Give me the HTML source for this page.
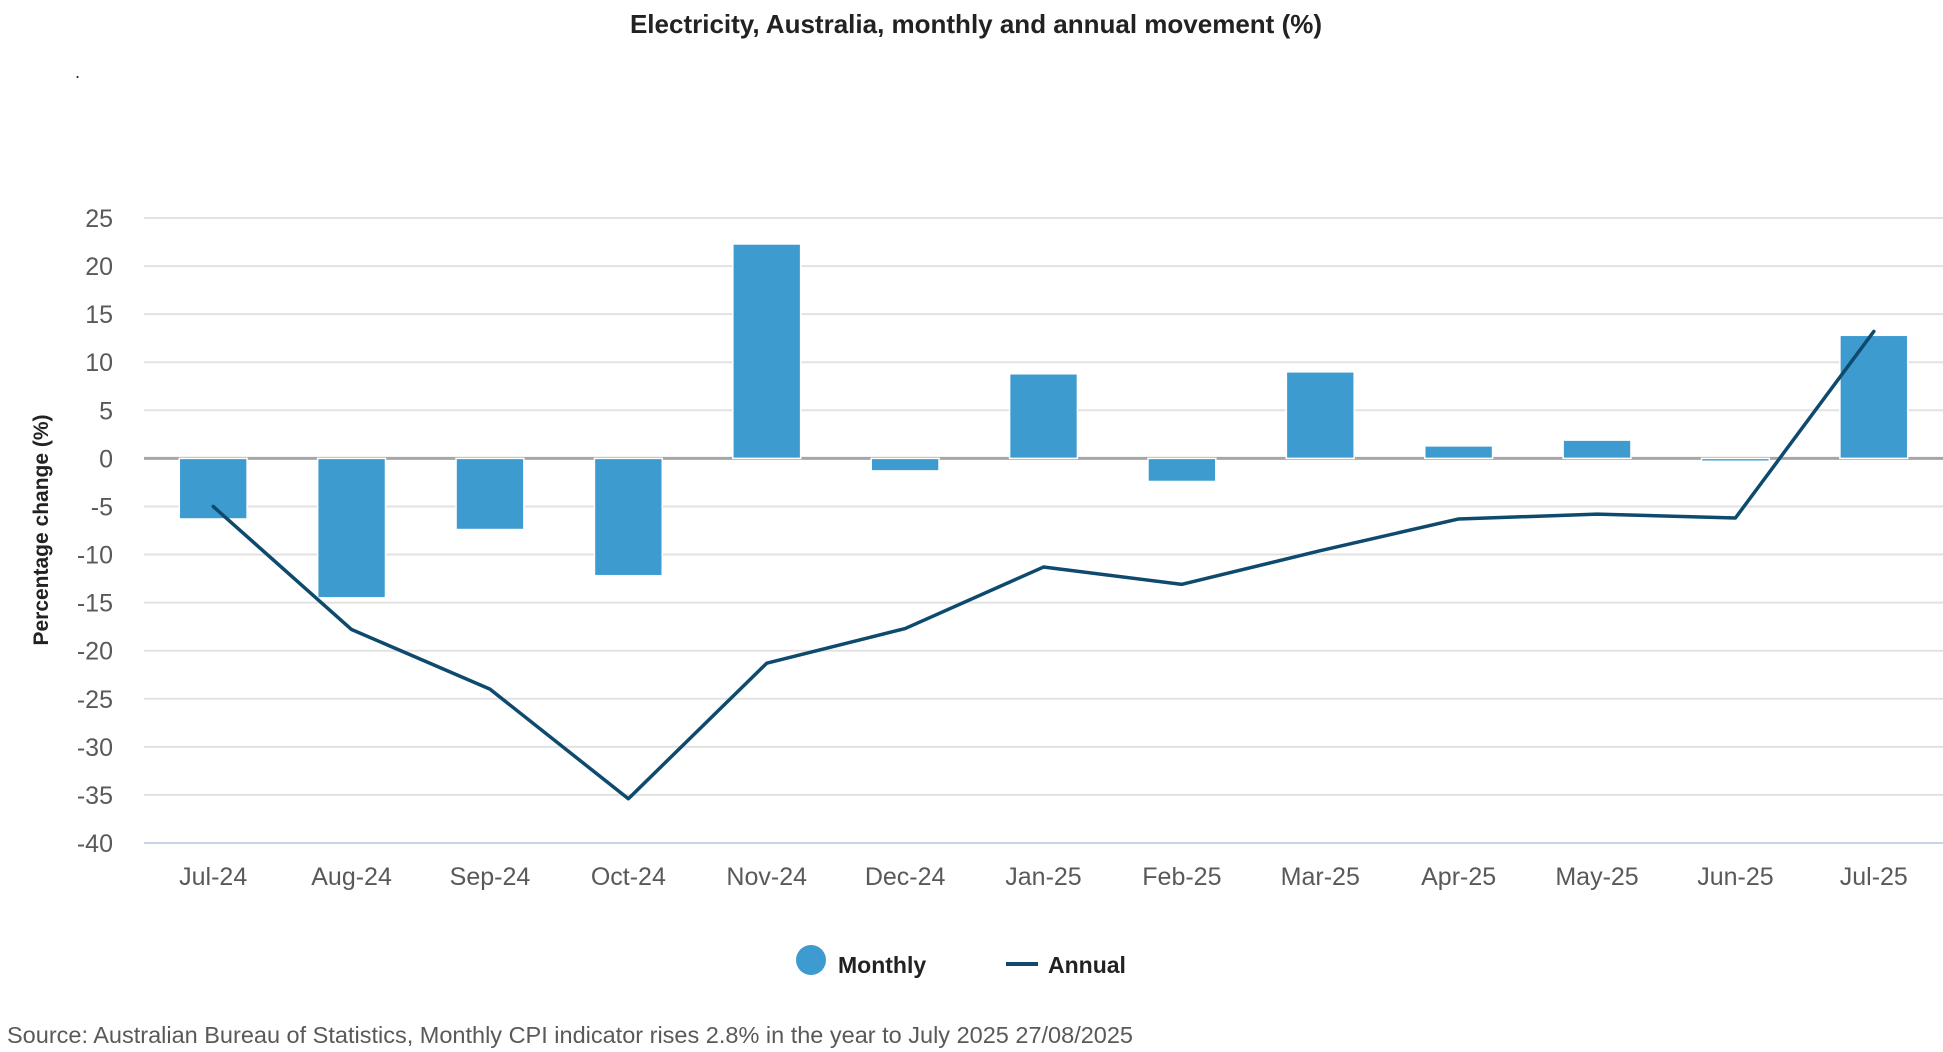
<!DOCTYPE html>
<html><head><meta charset="utf-8"><style>
body{margin:0;background:#fff;width:1943px;height:1052px;overflow:hidden;font-family:"Liberation Sans",sans-serif}
</style></head><body>
<svg id="chart" width="1943" height="1052" style="position:absolute;left:0;top:0">
<text x="976" y="33" text-anchor="middle" font-size="26" font-weight="600" fill="#222">Electricity, Australia, monthly and annual movement (%)</text>
<text x="75" y="78" font-size="18" fill="#222">.</text>
<g id="grid"></g><g id="bars"></g><g id="line"></g>
<text transform="translate(48,530) rotate(-90)" text-anchor="middle" font-size="21" font-weight="bold" fill="#222">Percentage change (%)</text>
<circle cx="811" cy="960" r="15" fill="#3d9bd0"/>
<text x="838" y="973" font-size="23" font-weight="bold" fill="#222">Monthly</text>
<line x1="1006" y1="964" x2="1038" y2="964" stroke="#0e4a6e" stroke-width="4"/>
<text x="1048" y="973" font-size="23" font-weight="bold" fill="#222">Annual</text>
<text x="7" y="1043" font-size="23.5" fill="#595959">Source: Australian Bureau of Statistics, Monthly CPI indicator rises 2.8% in the year to July 2025 27/08/2025</text>
</svg>
<script>
const categories=["Jul-24","Aug-24","Sep-24","Oct-24","Nov-24","Dec-24","Jan-25","Feb-25","Mar-25","Apr-25","May-25","Jun-25","Jul-25"];
const monthly=[-6.3,-14.5,-7.4,-12.2,22.3,-1.3,8.8,-2.4,9.0,1.3,1.9,-0.3,12.8];
const annual=[-5.0,-17.8,-24.0,-35.4,-21.3,-17.7,-11.3,-13.1,-9.6,-6.3,-5.8,-6.2,13.2];
const yTicks=[25,20,15,10,5,0,-5,-10,-15,-20,-25,-30,-35,-40];
const NS="http://www.w3.org/2000/svg";
const L=144,R=1943,T=218,B=843,ymax=25,ymin=-40;
const band=(R-L)/categories.length;
const x=i=>L+band*(i+0.5);
const y=v=>T+(ymax-v)/(ymax-ymin)*(B-T);
function mk(tag,a,p){const e=document.createElementNS(NS,tag);for(const k in a)e.setAttribute(k,a[k]);p.appendChild(e);return e;}
const g=document.getElementById('grid');
yTicks.forEach(t=>{
 if(t!==0){const l=mk('line',{x1:L,x2:R,y1:y(t),y2:y(t),stroke:t===ymin?'#c7d3e6':'#e2e2e2','stroke-width':2},g);
 
 }
 const tx=mk('text',{x:113,y:y(t)+9,'text-anchor':'end','font-size':25,fill:'#595959'},g);
 tx.textContent=t;
 
 
});
categories.forEach((c,i)=>{
 const tx=mk('text',{x:x(i),y:885,'text-anchor':'middle','font-size':25,fill:'#595959'},g);
 tx.textContent=c;
 
 
});
const z=mk('line',{x1:L,x2:R,y1:y(0),y2:y(0),stroke:'#a6a6a6','stroke-width':3},g);


const bg=document.getElementById('bars');const bw=band*0.49;
monthly.forEach((v,i)=>{
 const y0=Math.min(y(v),y(0)),h=Math.max(Math.abs(y(v)-y(0)),1.5);
 const r=mk('rect',{x:x(i)-bw/2,y:y0,width:bw,height:h,fill:'#3d9bd0',stroke:'#fff','stroke-width':1.5},bg);
 
 
});
const pl=mk('polyline',{points:annual.map((v,i)=>x(i)+','+y(v)).join(' '),fill:'none',stroke:'#0e4a6e','stroke-width':3.5,'stroke-linejoin':'round','stroke-linecap':'round'},document.getElementById('line'));


</script>
</body></html>
